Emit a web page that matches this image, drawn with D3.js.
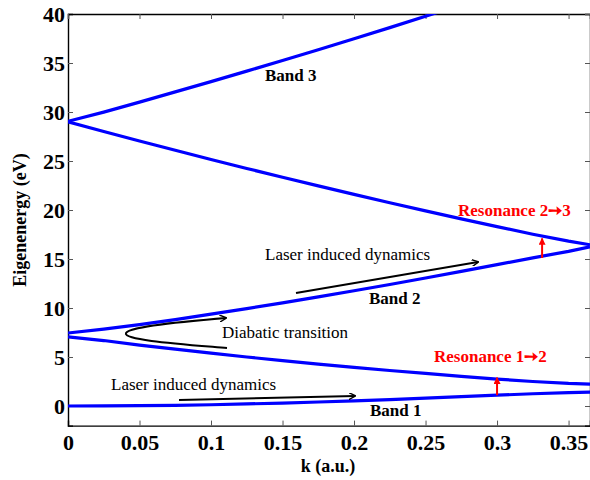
<!DOCTYPE html>
<html>
<head>
<meta charset="utf-8">
<script src="https://cdn.jsdelivr.net/npm/d3@7"></script>
<style>
  body { margin: 0; background: #fff; }
  text { font-family: "Liberation Serif", "Times New Roman", "DejaVu Serif", serif; }
</style>
</head>
<body>
<svg width="590" height="480"></svg>
<script>
// values
const kValues = [0, 0.025, 0.05, 0.075, 0.1, 0.125, 0.15, 0.175, 0.2, 0.225, 0.25, 0.275, 0.3, 0.325, 0.35, 0.365];
const band1 = [0, 0.01, 0.03, 0.07, 0.13, 0.21, 0.3, 0.41, 0.53, 0.66, 0.8, 0.95, 1.1, 1.25, 1.37, 1.42];
const band2Low = [7.05, 6.68, 6.22, 5.8, 5.4, 5.0, 4.63, 4.28, 3.95, 3.62, 3.32, 3.03, 2.75, 2.5, 2.3, 2.24];
const band2High = [7.45, 7.85, 8.3, 8.82, 9.37, 9.94, 10.53, 11.14, 11.76, 12.4, 13.06, 13.74, 14.43, 15.12, 15.78, 16.25];
const band3Low = [29.0, 28.01, 27.04, 26.09, 25.15, 24.24, 23.34, 22.46, 21.59, 20.74, 19.91, 19.1, 18.3, 17.53, 16.82, 16.45];
const band3High = [29.05, 29.99, 31.01, 32.05, 33.1, 34.17, 35.25, 36.36, 37.48, 38.61, 39.77, 40.94, 42.1, 43.3, 44.5, 45.2];
const xTicks = [0, 0.05, 0.1, 0.15, 0.2, 0.25, 0.3, 0.35];
const yTicks = [0, 5, 10, 15, 20, 25, 30, 35, 40];

const svg = d3.select('svg');
const plotLeft = 68, plotTop = 14, plotRight = 590, plotBottom = 425.6;

const x = d3.scaleLinear().domain([0, 0.365]).range([plotLeft, plotRight]);
const y = d3.scaleLinear().domain([-2, 40]).range([plotBottom, plotTop]);

svg.append('clipPath').attr('id', 'plot')
  .append('rect')
  .attr('x', plotLeft).attr('y', plotTop)
  .attr('width', plotRight - plotLeft).attr('height', plotBottom - plotTop);

// axes with inward ticks
const fmt = d => d3.format('')(d);
svg.append('g')
  .attr('transform', `translate(0,${plotBottom})`)
  .call(d3.axisBottom(x).tickValues(xTicks).tickFormat(fmt).tickSize(-5).tickPadding(9));
svg.append('g')
  .attr('transform', `translate(${plotLeft},0)`)
  .call(d3.axisLeft(y).tickValues(yTicks).tickSize(-5).tickPadding(3));
svg.append('g')
  .attr('transform', `translate(0,${plotTop})`)
  .call(d3.axisTop(x).tickValues(xTicks).tickFormat('').tickSize(-5));
svg.append('g')
  .attr('transform', `translate(${plotRight},0)`)
  .call(d3.axisRight(y).tickValues(yTicks).tickFormat('').tickSize(-5));

svg.selectAll('.domain').attr('stroke', '#000').attr('stroke-width', 1.4);
svg.selectAll('.tick line').attr('stroke', '#555');
svg.selectAll('.tick text')
  .attr('font-size', 22)
  .attr('font-weight', 'bold')
  .attr('fill', '#000');

// bands
const line = d3.line()
  .x((d, i) => x(kValues[i]))
  .y(d => y(d));

const curves = svg.append('g').attr('clip-path', 'url(#plot)');
[band1, band2Low, band2High, band3Low, band3High].forEach(b => {
  curves.append('path')
    .attr('d', line(b))
    .attr('fill', 'none')
    .attr('stroke', '#0000ff')
    .attr('stroke-width', 3.2);
});

// axis titles
svg.append('text')
  .attr('x', 328).attr('y', 472)
  .attr('text-anchor', 'middle')
  .attr('font-size', 18).attr('font-weight', 'bold')
  .text('k (a.u.)');
svg.append('text')
  .attr('transform', 'translate(26,220) rotate(-90)')
  .attr('text-anchor', 'middle')
  .attr('font-size', 18).attr('font-weight', 'bold')
  .text('Eigenenergy (eV)');

// arrow heads
const defs = svg.append('defs');
defs.append('marker')
  .attr('id', 'blackHead')
  .attr('viewBox', '0 0 10 10')
  .attr('refX', 9).attr('refY', 5)
  .attr('markerWidth', 7).attr('markerHeight', 7)
  .attr('markerUnits', 'userSpaceOnUse')
  .attr('orient', 'auto')
  .append('path')
  .attr('d', 'M0,0 L10,5 L0,10')
  .attr('fill', 'none')
  .attr('stroke', '#000')
  .attr('stroke-width', 2);

defs.append('marker')
  .attr('id', 'redHead')
  .attr('viewBox', '0 0 10 10')
  .attr('refX', 9).attr('refY', 5)
  .attr('markerWidth', 7).attr('markerHeight', 7)
  .attr('markerUnits', 'userSpaceOnUse')
  .attr('orient', 'auto')
  .append('path')
  .attr('d', 'M0,0 L10,5 L0,10 Z')
  .attr('fill', '#ff0000');

// labels
const labels = [
  { t: 'Band 3', x: 265, y: 81, bold: true },
  { t: 'Band 2', x: 369, y: 304, bold: true },
  { t: 'Band 1', x: 370, y: 416, bold: true },
  { t: 'Laser induced dynamics', x: 265, y: 260 },
  { t: 'Laser induced dynamics', x: 111, y: 390 },
  { t: 'Diabatic transition', x: 222, y: 338 }
];
labels.forEach(l => {
  svg.append('text')
    .attr('x', l.x).attr('y', l.y)
    .attr('font-size', 17)
    .attr('font-weight', l.bold ? 'bold' : 'normal')
    .attr('fill', '#000')
    .text(l.t);
});

svg.append('text')
  .attr('x', 458).attr('y', 216)
  .attr('font-size', 17).attr('font-weight', 'bold').attr('fill', '#ff0000')
  .text('Resonance 2\u27993');
svg.append('text')
  .attr('x', 434).attr('y', 362)
  .attr('font-size', 17).attr('font-weight', 'bold').attr('fill', '#ff0000')
  .text('Resonance 1\u27992');

// black arrows
svg.append('path')
  .attr('d', 'M296,293 L478,262')
  .attr('stroke', '#000').attr('stroke-width', 2).attr('fill', 'none')
  .attr('marker-end', 'url(#blackHead)');
svg.append('path')
  .attr('d', 'M179,400 L355,396')
  .attr('stroke', '#000').attr('stroke-width', 2).attr('fill', 'none')
  .attr('marker-end', 'url(#blackHead)');
svg.append('path')
  .attr('d', 'M227,348 C180,344 122,340 126,333 C130,326 190,321 226,318')
  .attr('stroke', '#000').attr('stroke-width', 2).attr('fill', 'none')
  .attr('marker-end', 'url(#blackHead)');

// red resonance arrows
svg.append('path')
  .attr('d', `M${x(0.3315)},${y(15.1)} L${x(0.3315)},${y(17.1)}`)
  .attr('stroke', '#ff0000').attr('stroke-width', 2)
  .attr('marker-end', 'url(#redHead)');
svg.append('path')
  .attr('d', `M${x(0.3)},${y(1.1)} L${x(0.3)},${y(2.9)}`)
  .attr('stroke', '#ff0000').attr('stroke-width', 2)
  .attr('marker-end', 'url(#redHead)');
</script>
</body>
</html>
